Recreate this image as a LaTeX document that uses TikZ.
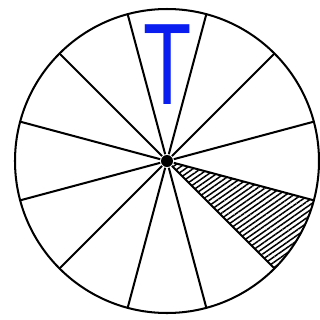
\documentclass[tikz,border=0pt]{standalone}
\usepackage{fontspec}
\setmainfont{Liberation Sans}
\usepackage{graphicx}
\usetikzlibrary{patterns.meta}
\definecolor{letterblue}{RGB}{10,30,240}

\begin{document}
\begin{tikzpicture}[line width=1.15pt]
\useasboundingbox (-3.34,-3.18) rectangle (3.06,3.22);

\node [shape=circle, fill=black, inner sep=0pt, minimum size=0.24cm] (O) at (0,0) {};

\coordinate (P1) at (15:3.04);
\coordinate (P2) at (45:3.04);
\coordinate (P3) at (75:3.04);
\coordinate (P4) at (105:3.04);
\coordinate (P5) at (135:3.04);
\coordinate (P6) at (165:3.04);
\coordinate (P7) at (195:3.04);
\coordinate (P8) at (225:3.04);
\coordinate (P9) at (255:3.04);
\coordinate (P10) at (285:3.04);
\coordinate (P11) at (315:3.04);
\coordinate (P12) at (345:3.04);

% shaded slice
\fill [pattern={Lines[angle=35,distance=2.5pt,line width=0.85pt]}] (O.center) -- (P12) arc (345:315:3.04) -- cycle;

\draw (O.center) circle (3.04);

\path [-] (O) edge (P1);
\path [-] (O) edge (P2);
\path [-] (O) edge (P3);
\path [-] (O) edge (P4);
\path [-] (O) edge (P5);
\path [-] (O) edge (P6);
\path [-] (O) edge (P7);
\path [-] (O) edge (P8);
\path [-] (O) edge (P9);
\path [-] (O) edge (P10);
\path [-] (O) edge (P11);
\path [-] (O) edge (P12);

\node [inner sep=0pt, text=letterblue, font=\fontsize{66}{66}\selectfont] (T) at (0.01,1.93) {\scalebox{0.68}[1]{T}};
\end{tikzpicture}
\end{document}
